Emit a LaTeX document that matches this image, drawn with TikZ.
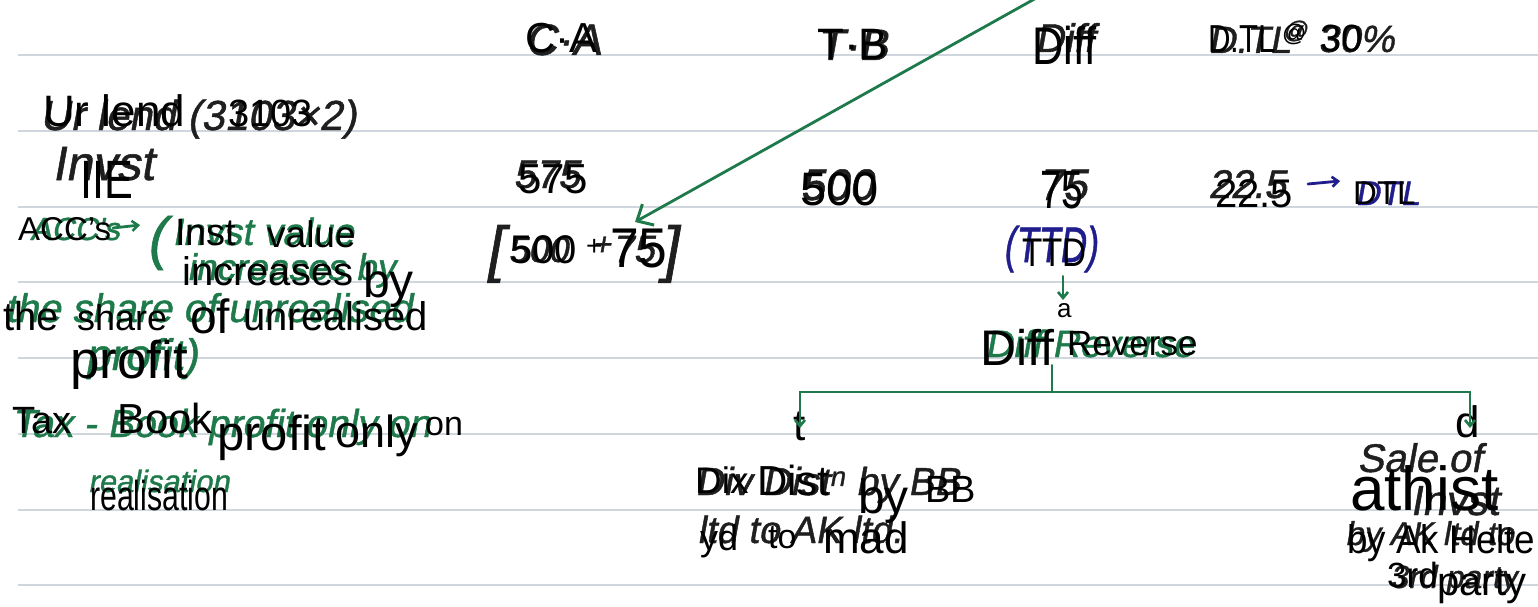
\documentclass[tikz,border=0pt]{standalone}
\usepackage{fontspec}
\setmainfont{Liberation Sans}
\newfontfamily\handfont[FakeSlant=0.18,FakeBold=1.1]{Liberation Sans}
\usetikzlibrary{arrows.meta}
\definecolor{ruling}{RGB}{208,214,222}
\definecolor{pen}{RGB}{30,122,74}
\definecolor{ink}{RGB}{32,30,140}
\newcommand\fs[1]{\fontsize{#1}{#1}\selectfont}
\newcommand\sx[2]{\scalebox{#1}[1]{#2}}

\begin{document}
\begin{tikzpicture}[x=1pt,y=-1pt,
  pr/.style={anchor=base west, inner sep=0pt, text=black},
  hw/.style={anchor=base west, inner sep=0pt, font=\handfont},
  gh/.style={hw, text=pen},
  bh/.style={hw, text=black!88},
  nh/.style={hw, text=ink},
  rl/.style={draw=ruling, line width=1.7pt},
  gline/.style={draw=pen, line width=2.8pt, line cap=round},
  gtip/.style={-{Straight Barb[length=13pt,width=24pt,line width=3pt]}},
  stip/.style={-{Straight Barb[length=6pt,width=10pt,line width=2.6pt]}},
]
\useasboundingbox (0,0) rectangle (1538,607);
\fill[white] (0,0) rectangle (1538,607);

% ruled lines of the notebook page
\foreach \yy in {55,131,207,282,358,434,510,585}
  \draw[rl] (18,\yy) -- (1538,\yy);

% ---------- handwriting: black ink ----------
\node[bh] (hUr)   at (40,130)   {\fs{42}Ur lend (3103×2)};
\node[bh] (hInv)  at (52,180)   {\fs{48}Invst};
\node[bh] (hCA)   at (525,55)   {\fs{44}C·A};
\node[bh] (hTB)   at (817,60)   {\fs{44}T·B};
\node[bh] (hDf)   at (1035,52)  {\fs{40}Diff};
\node[bh] (hDTL)  at (1208,53)  {\fs{38}D.TL};
\node[bh] (hAt)   at (1283,38)  {\fs{24}@};
\node[bh] (hPc)   at (1318,52)  {\fs{38}30\%};
\node[bh] (h575)  at (513,188)  {\fs{40}575};
\node[bh] (h500)  at (800,200)  {\fs{44}500};
\node[bh] (h75)   at (1038,200) {\fs{44}75};
\node[bh] (h225)  at (1208,198) {\fs{40}22.5};
\node[bh] (hBrL)  at (485,270)  {\fs{62}[};
\node[bh] (hB500) at (508,262)  {\fs{36}500};
\node[bh] (hPlus) at (592,255)  {\fs{32}+};
\node[bh] (hB75)  at (612,262)  {\fs{38}75};
\node[bh] (hBrR)  at (660,270)  {\fs{62}]};
\node[bh] (hDiv)  at (695,495)  {\fs{39}Div Dist\textsuperscript{n} by BB};
\node[bh] (hLtd)  at (697,543)  {\fs{38}ltd to AK ltd.};
\node[bh] (hSale) at (1357,472) {\fs{40}Sale of};
\node[bh] (hSInv) at (1410,515) {\fs{42}Invst};
\node[bh] (hByAk) at (1345,545) {\fs{33}by AK ltd to};
\node[bh] (h3rd)  at (1390,588) {\fs{32}3rd party};

% ---------- handwriting: green pen ----------
\node[gh] (gAcc)  at (30,240)   {\fs{32}ACC's};
\node[gh] (gPar)  at (146,258)  {\fs{58}(};
\node[gh] (gInv)  at (172,245)  {\fs{38}Invst value};
\node[gh] (gInc)  at (187,280)  {\fs{37}increases by};
\node[gh] (gSh)   at (5,322)    {\fs{40}the share of unrealised};
\node[gh] (gPro)  at (85,370)   {\fs{44}profit)};
\node[gh] (gTax)  at (12,437)   {\fs{39}Tax - Book profit only on};
\node[gh] (gRea)  at (88,492)   {\fs{31}realisation};
\node[gh] (gRev)  at (985,357)  {\fs{38}Diff Reverse};

% ---------- handwriting: blue ink ----------
\node[nh] (nTTD)  at (1003,262) {\fs{50}\sx{.72}{(TTD)}};
\node[nh] (nDTL)  at (1355,205) {\fs{34}DTL};

% ---------- printed text ----------
\node[pr] (pUr)    at (43,127)   {\fs{44}Ur lend};
\node[pr] (p3103)  at (228,127)  {\fs{38}3103};
\node[pr] (pIIE)   at (80,198)   {\fs{54}\sx{.8}{IIE}};
\node[pr] (pCA)    at (525,53)   {\fs{42}C·A};
\node[pr] (pTB)    at (817,60)   {\fs{44}T·B};
\node[pr] (pDiff)  at (1032,65)  {\fs{53}\sx{.82}{Diff}};
\node[pr] (pDTL)   at (1208,53)  {\fs{39}\sx{.8}{D.TL}};
\node[pr] (pAt)    at (1282,42)  {\fs{24}@};
\node[pr] (p30)    at (1320,52)  {\fs{38}30};
\node[pr] (pACC)   at (18,240)   {\fs{33}ACC's};
\node[pr] (pInst)  at (175,245)  {\fs{38}Inst};
\node[pr] (pValue) at (267,247)  {\fs{37}value};
\node[pr] (pIncr)  at (182,285)  {\fs{40}increases};
\node[pr] (pBy)    at (363,297)  {\fs{48}by};
\node[pr] (pThe)   at (3,330)    {\fs{40}the};
\node[pr] (pShare) at (77,330)   {\fs{36}share};
\node[pr] (pOf)    at (190,333)  {\fs{48}of};
\node[pr] (pUnr)   at (243,330)  {\fs{40}unrealised};
\node[pr] (pProf)  at (70,378)   {\fs{53}profit};
\node[pr] (pTax)   at (12,433)   {\fs{38}Tax};
\node[pr] (pBook)  at (117,433)  {\fs{42}Book};
\node[pr] (pProf2) at (217,450)  {\fs{49}profit};
\node[pr] (pOnly)  at (335,447)  {\fs{45}only};
\node[pr] (pOn)    at (425,435)  {\fs{34}on};
\node[pr] (pReal)  at (90,510)   {\fs{42}\sx{.72}{realisation}};
\node[pr] (p575)   at (518,193)  {\fs{42}575};
\node[pr] (p500)   at (800,205)  {\fs{47}500};
\node[pr] (p75)    at (1040,208) {\fs{54}\sx{.72}{75}};
\node[pr] (p225)   at (1215,207) {\fs{40}22.5};
\node[pr] (pDTL2)  at (1353,204) {\fs{33}DTL};
\node[pr] (pB500)  at (510,263)  {\fs{40}500};
\node[pr] (pPlus)  at (586,255)  {\fs{28}+};
\node[pr] (pB75)   at (610,267)  {\fs{56}\sx{.92}{75}};
\node[pr] (pTTD)   at (1022,266) {\fs{40}\sx{.83}{TTD}};
\node[pr] (pA)     at (1057,317) {\fs{26}a};
\node[pr] (pDiff2) at (980,365)  {\fs{50}Diff};
\node[pr] (pRev)   at (1067,355) {\fs{35}Reverse};
\node[pr] (pT)     at (793,440)  {\fs{44}t};
\node[pr] (pDix)   at (695,493)  {\fs{37}Dix};
\node[pr] (pDist)  at (757,495)  {\fs{42}Dist};
\node[pr] (pBy2)   at (858,513)  {\fs{48}by};
\node[pr] (pBB)    at (925,502)  {\fs{38}BB};
\node[pr] (pYd)    at (700,550)  {\fs{36}yd};
\node[pr] (pTo)    at (768,548)  {\fs{34}to};
\node[pr] (pMad)   at (823,553)  {\fs{44}mad};
\node[pr] (pD)     at (1455,437) {\fs{44}d};
\node[pr] (pAth)   at (1350,510) {\fs{62}athist};
\node[pr] (pByAk)  at (1347,553) {\fs{40}\sx{.92}{by Ak Helte}};
\node[pr] (p3rd)   at (1387,587) {\fs{35}3rd};
\node[pr] (pParty) at (1437,595) {\fs{40}party};

% ---------- connectors ----------
% long green arrow down to the bracketed 75
\coordinate (gFrom) at (1047,-8);
\coordinate (gTo)   at (635,222);
\draw[gline,gtip] (gFrom) -- (gTo);

% green arrow after ACC's
\coordinate (accA) at (113,228);
\coordinate (accB) at (140,225);
\draw[gline,stip] (accA) -- (accB);

% blue arrow from 22.5 to DTL
\coordinate (blA) at (1308,184);
\coordinate (blB) at (1340,181);
\draw[draw=ink,line width=2.8pt,line cap=round,-{Straight Barb[length=6pt,width=10pt,line width=2.6pt]}] (blA) -- (blB);

% small arrow from TTD down to the reversal
\coordinate (ttA) at (1063,276);
\coordinate (ttB) at (1063,300);
\draw[gline,line width=2pt,stip] (ttA) -- (ttB);

% branching of the reversal
\coordinate (jn)    at (1052,392);
\coordinate (legT)  at (800,428);
\coordinate (legD)  at (1470,428);
\draw[gline] (jn |- pDiff2.south) -- (jn);
\draw[gline,stip] (jn) -| (legT);
\draw[gline,stip] (jn) -| (legD);
\end{tikzpicture}
\end{document}
